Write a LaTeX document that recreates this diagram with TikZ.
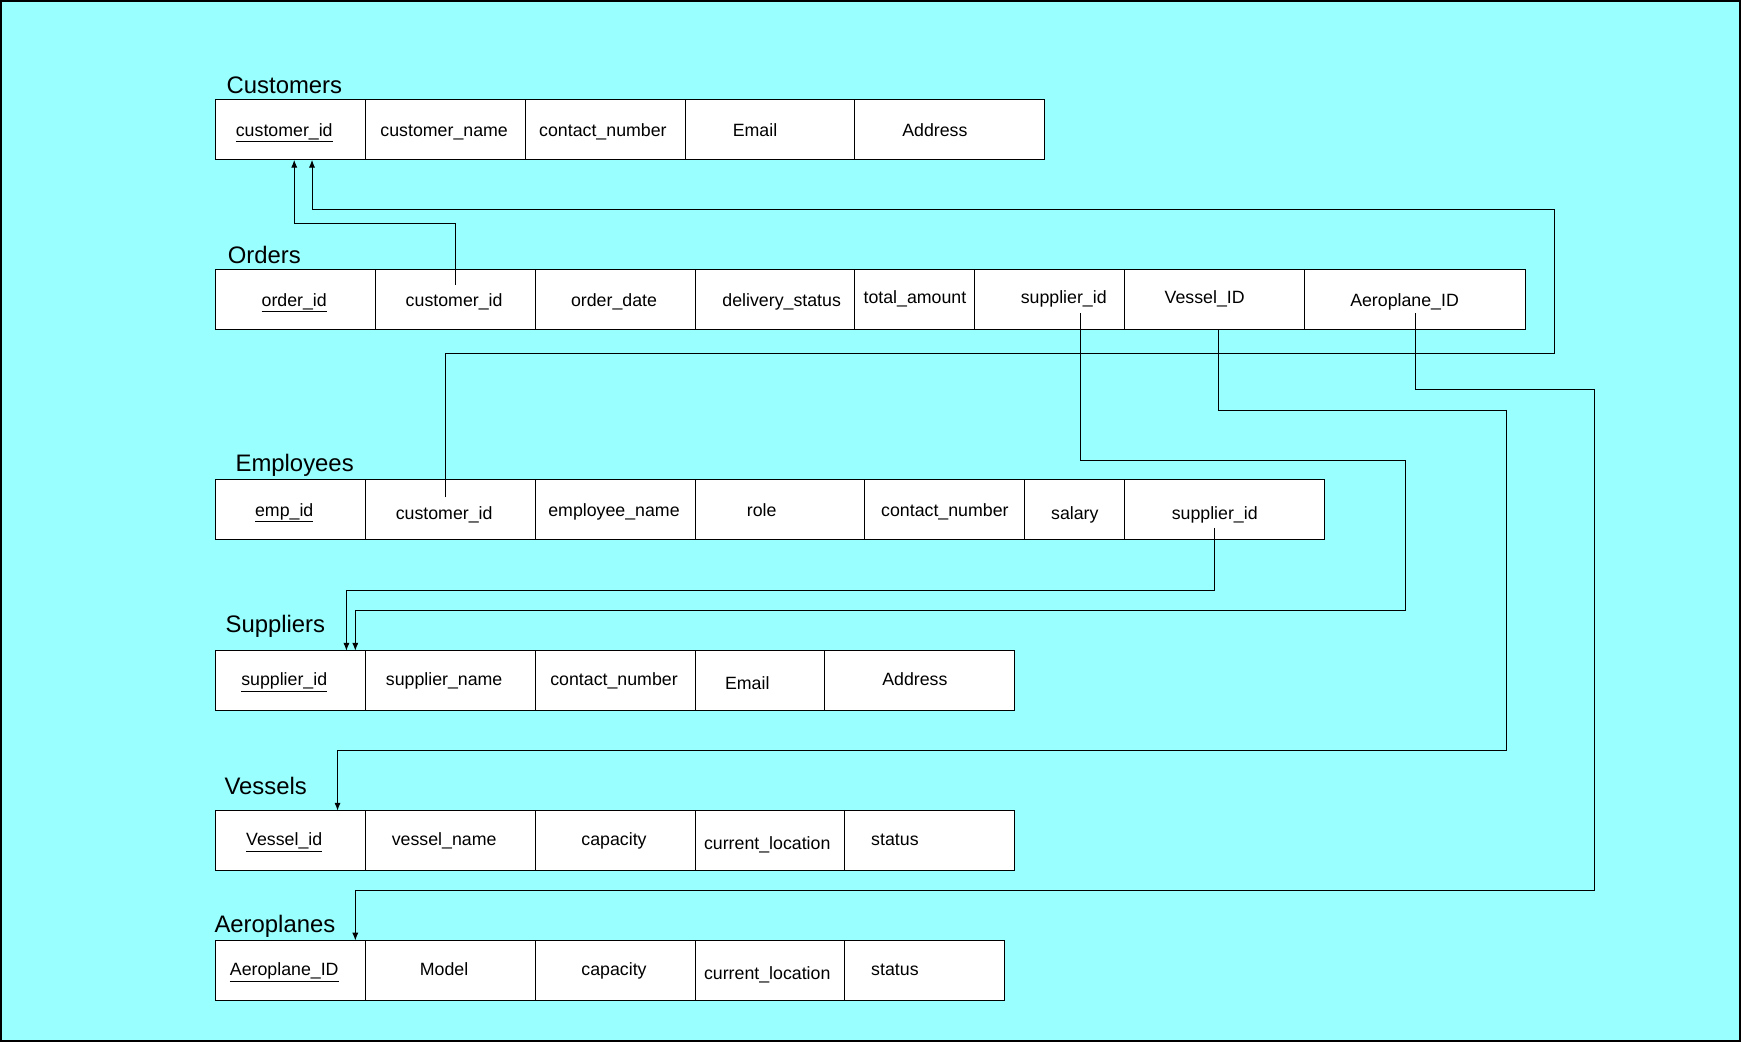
\documentclass[tikz,border=0pt]{standalone}
\usepackage{fontspec}
\setmainfont{Liberation Sans}
\usetikzlibrary{arrows.meta,calc}
\definecolor{bgcyan}{RGB}{153,255,255}
\begin{document}
\begin{tikzpicture}[x=1pt,y=-1pt,
 cellbox/.style={draw=black,fill=white,line width=0.9pt,minimum height=54pt,anchor=north west,inner sep=0pt,outer sep=0pt},
 celltext/.style={font=\fontsize{16}{19}\selectfont,text height=11.5pt,text depth=3pt,inner sep=2pt,yshift=-1.5pt},
 tabtitle/.style={font=\fontsize{21.5}{25}\selectfont,anchor=west,inner sep=0pt},
 conn/.style={draw=black,line width=0.8pt,-{Latex[length=7pt,width=5.5pt]}}]
\useasboundingbox (0,0) rectangle (1568,938);
\fill[bgcyan] (0,0) rectangle (1568,938);
\draw[line width=1.5pt] (0.75,0.75) rectangle (1567.25,937.25);

% titles
\node[tabtitle] (tcust) at (204,77) {Customers};
\node[tabtitle] (tord) at (205,230) {Orders};
\node[tabtitle] (temp) at (212,419) {Employees};
\node[tabtitle] (tsup) at (203,564) {Suppliers};
\node[tabtitle] (tves) at (202,708) {Vessels};
\node[tabtitle] (taer) at (193,834) {Aeroplanes};

% Customers
\foreach \n/\a/\b/\t/\tx/\ty in {
 cu1/194/329/{\underline{customer\_id}}/256/117,
 cu2/329/473/{customer\_name}/400/117,
 cu3/473/617/{contact\_number}/543/117,
 cu4/617/770/{Email}/680/117,
 cu5/770/941/{Address}/842/117}{
 \node[cellbox,minimum width={(\b-\a)*1pt}] (\n) at (\a,90) {};
 \node[celltext] (\n-t) at (\tx,\ty) {\t};
}
% Orders
\foreach \n/\a/\b/\t/\tx/\ty in {
 or1/194/338/{\underline{order\_id}}/265/270,
 or2/338/482/{customer\_id}/409/270,
 or3/482/626/{order\_date}/553/270,
 or4/626/770/{delivery\_status}/704/270,
 or5/770/878/{total\_amount}/824/268,
 or6/878/1013/{supplier\_id}/958/268,
 or7/1013/1175/{Vessel\_ID}/1085/268,
 or8/1175/1374/{Aeroplane\_ID}/1265/270}{
 \node[cellbox,minimum width={(\b-\a)*1pt}] (\n) at (\a,243) {};
 \node[celltext] (\n-t) at (\tx,\ty) {\t};
}
% Employees
\foreach \n/\a/\b/\t/\tx/\ty in {
 em1/194/329/{\underline{emp\_id}}/256/459,
 em2/329/482/{customer\_id}/400/462,
 em3/482/626/{employee\_name}/553/459,
 em4/626/779/{role}/686/459,
 em5/779/923/{contact\_number}/851/459,
 em6/923/1013/{salary}/968/462,
 em7/1013/1193/{supplier\_id}/1094/462}{
 \node[cellbox,minimum width={(\b-\a)*1pt}] (\n) at (\a,432) {};
 \node[celltext] (\n-t) at (\tx,\ty) {\t};
}
% Suppliers
\foreach \n/\a/\b/\t/\tx/\ty in {
 su1/194/329/{\underline{supplier\_id}}/256/612,
 su2/329/482/{supplier\_name}/400/612,
 su3/482/626/{contact\_number}/553/612,
 su4/626/743/{Email}/673/615,
 su5/743/914/{Address}/824/612}{
 \node[cellbox,minimum width={(\b-\a)*1pt}] (\n) at (\a,586) {};
 \node[celltext] (\n-t) at (\tx,\ty) {\t};
}
% Vessels
\foreach \n/\a/\b/\t/\tx/\ty in {
 ve1/194/329/{\underline{Vessel\_id}}/256/756,
 ve2/329/482/{vessel\_name}/400/756,
 ve3/482/626/{capacity}/553/756,
 ve4/626/761/{current\_location}/691/759,
 ve5/761/914/{status}/806/756}{
 \node[cellbox,minimum width={(\b-\a)*1pt}] (\n) at (\a,730) {};
 \node[celltext] (\n-t) at (\tx,\ty) {\t};
}
% Aeroplanes
\foreach \n/\a/\b/\t/\tx/\ty in {
 ae1/194/329/{\underline{Aeroplane\_ID}}/256/873,
 ae2/329/482/{Model}/400/873,
 ae3/482/626/{capacity}/553/873,
 ae4/626/761/{current\_location}/691/876,
 ae5/761/905/{status}/806/873}{
 \node[cellbox,minimum width={(\b-\a)*1pt}] (\n) at (\a,847) {};
 \node[celltext] (\n-t) at (\tx,\ty) {\t};
}

% route corner points
\coordinate (j1) at (265,201);
\coordinate (k1) at (1400,318);
\coordinate (k2) at (281,189);
\coordinate (m1) at (1266,415);
\coordinate (m2) at (320,550);
\coordinate (n1) at (312,532);
\coordinate (p1) at (1357,370);
\coordinate (p2) at (304,676);
\coordinate (q1) at (1436,351);
\coordinate (q2) at (320,802);

% Orders.customer_id -> Customers.customer_id
\draw[conn] ([xshift=1pt,yshift=5.5pt]or2-t.north) |- (j1) -- (j1 |- cu1.south);
% Employees.customer_id -> Customers.customer_id
\draw[conn] ([xshift=1pt,yshift=6pt]em2-t.north) |- (k1) |- (k2) -- (k2 |- cu1.south);
% Orders.supplier_id -> Suppliers.supplier_id
\draw[conn] ([xshift=27.5pt,yshift=-12pt]or6.center) |- (m1) |- (m2) -- (m2 |- su1.north);
% Employees.supplier_id -> Suppliers.supplier_id
\draw[conn] ([yshift=-2.5pt]em7-t.south) |- (n1) -- (n1 |- su1.north);
% Orders.Vessel_ID -> Vessels.Vessel_id
\draw[conn] ([xshift=3pt]or7.south) |- (p1) |- (p2) -- (p2 |- ve1.north);
% Orders.Aeroplane_ID -> Aeroplanes.Aeroplane_ID
\draw[conn] ([yshift=-12pt]or8.center) |- (q1) |- (q2) -- (q2 |- ae1.north);
\end{tikzpicture}
\end{document}
